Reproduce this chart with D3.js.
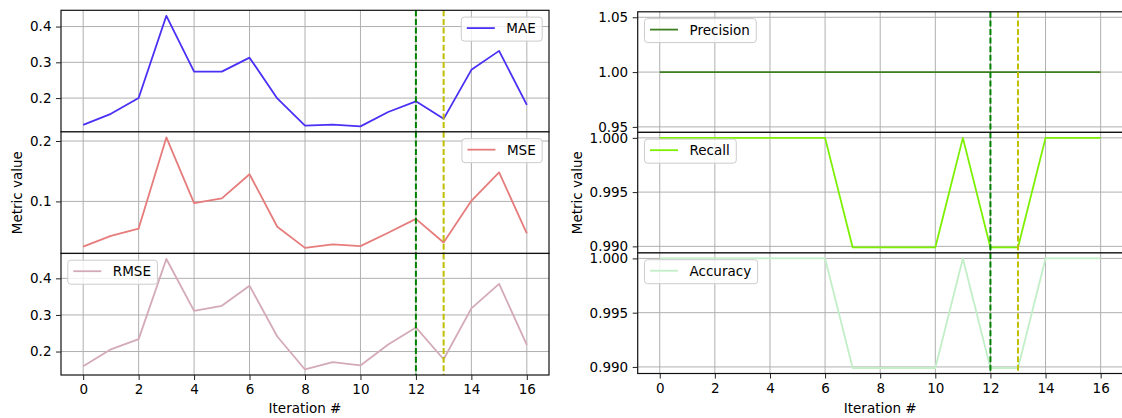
<!DOCTYPE html>
<html>
<head>
<meta charset="utf-8">
<script src="https://cdn.jsdelivr.net/npm/d3@7/dist/d3.min.js"></script>
<style>
  body { margin: 0; background: #fff; }
  svg { display: block; font-family: "DejaVu Sans", sans-serif; }
</style>
</head>
<body>
<svg id="chart" width="1122" height="418"></svg>
<script>
const iterations = [0, 1, 2, 3, 4, 5, 6, 7, 8, 9, 10, 11, 12, 13, 14, 15, 16];
const xTicks = [0, 2, 4, 6, 8, 10, 12, 14, 16];

const maeValues = [0.125, 0.156, 0.200, 0.430, 0.274, 0.274, 0.313, 0.199, 0.123, 0.126, 0.121, 0.161, 0.191, 0.142, 0.279, 0.332, 0.181];
const mseValues = [0.025, 0.043, 0.055, 0.206, 0.097, 0.105, 0.145, 0.058, 0.023, 0.029, 0.026, 0.048, 0.071, 0.032, 0.101, 0.148, 0.047];
const rmseValues = [0.160, 0.206, 0.234, 0.453, 0.311, 0.325, 0.380, 0.241, 0.151, 0.171, 0.162, 0.219, 0.266, 0.179, 0.318, 0.385, 0.218];
const precisionValues = [1, 1, 1, 1, 1, 1, 1, 1, 1, 1, 1, 1, 1, 1, 1, 1, 1];
const recallValues = [1, 1, 1, 1, 1, 1, 1, 0.9899, 0.9899, 0.9899, 0.9899, 1, 0.9899, 0.9899, 1, 1, 1];
const accuracyValues = [1, 1, 1, 1, 1, 1, 1, 0.9899, 0.9899, 0.9899, 0.9899, 1, 0.9899, 0.9899, 1, 1, 1];

const maeTicks = [0.2, 0.3, 0.4];
const mseTicks = [0.1, 0.2];
const rmseTicks = [0.2, 0.3, 0.4];
const precisionTicks = [0.95, 1.00, 1.05];
const recallTicks = [0.990, 0.995, 1.000];
const accuracyTicks = [0.990, 0.995, 1.000];

// vertical markers: best iteration (green) and the one after it (yellow)
const markers = [{ x: 12, color: '#008000' }, { x: 13, color: '#bfbf00' }];

const svg = d3.select('#chart');
const FONT = 13.5;

// matplotlib-ish autoscale: 5% margins, constant data expanded by 5%
const autoDomain = (values) => {
  let [lo, hi] = d3.extent(values);
  if (hi - lo < 1e-12) {
    lo -= Math.abs(lo) * 0.05;
    hi += Math.abs(hi) * 0.05;
  }
  const m = (hi - lo) * 0.05;
  return [lo - m, hi + m];
};

const addLegend = (g, panel, x0, x1, y0, y1) => {
  const pad = 6.8;
  const lg = g.append('g');
  const box = lg.append('rect')
    .attr('rx', 3).attr('ry', 3)
    .attr('fill', '#fff').attr('fill-opacity', 0.8)
    .attr('stroke', '#cccccc').attr('stroke-width', 1);
  lg.append('line')
    .attr('x1', 5.5).attr('x2', 33.5)
    .attr('y1', 11).attr('y2', 11)
    .attr('stroke', panel.color).attr('stroke-width', 1.8);
  const label = lg.append('text')
    .attr('x', 45).attr('y', 16)
    .attr('font-size', FONT)
    .text(panel.name);
  const w = 45 + label.node().getComputedTextLength() + 6.5;
  box.attr('width', w).attr('height', 24);
  const lx = panel.legend === 'right' ? x1 - pad - w : x0 + pad;
  lg.attr('transform', `translate(${lx},${y0 + pad})`);
};

const drawFigure = (cfg) => {
  const { left, right, top, bottom, panels, yLabelX } = cfg;
  const x = d3.scaleLinear().domain([-0.8, 16.8]).range([left, right]);
  const h = (bottom - top) / panels.length;

  panels.forEach((panel, i) => {
    const y0 = top + i * h;
    const y1 = y0 + h;
    const y = d3.scaleLinear().domain(autoDomain(panel.values)).range([y1, y0]);
    const g = svg.append('g');

    g.append('rect')
      .attr('x', left).attr('y', y0)
      .attr('width', right - left).attr('height', h)
      .attr('fill', '#fff');

    // grid
    g.append('g').selectAll('line').data(xTicks).join('line')
      .attr('x1', x).attr('x2', x)
      .attr('y1', y0).attr('y2', y1)
      .attr('stroke', '#b0b0b0').attr('stroke-width', 1);
    g.append('g').selectAll('line').data(panel.ticks).join('line')
      .attr('x1', left).attr('x2', right)
      .attr('y1', y).attr('y2', y)
      .attr('stroke', '#b0b0b0').attr('stroke-width', 1);

    const line = d3.line().x((d, j) => x(iterations[j])).y((d) => y(d));
    g.append('path')
      .datum(panel.values)
      .attr('d', line)
      .attr('fill', 'none')
      .attr('stroke', panel.color)
      .attr('stroke-width', 1.8)
      .attr('stroke-linejoin', 'round');

    g.selectAll('.marker').data(markers).join('line')
      .attr('class', 'marker')
      .attr('x1', (d) => x(d.x)).attr('x2', (d) => x(d.x))
      .attr('y1', y0).attr('y2', y1)
      .attr('stroke', (d) => d.color)
      .attr('stroke-width', 2)
      .attr('stroke-dasharray', '6,2.6');

    g.append('rect')
      .attr('x', left).attr('y', y0)
      .attr('width', right - left).attr('height', h)
      .attr('fill', 'none')
      .attr('stroke', '#111').attr('stroke-width', 1.2);

    const yAxis = g.append('g')
      .attr('transform', `translate(${left},0)`)
      .call(d3.axisLeft(y).tickValues(panel.ticks).tickFormat(d3.format(panel.fmt))
        .tickSize(5).tickPadding(4.5));
    yAxis.select('.domain').remove();

    if (i === panels.length - 1) {
      const xAxis = g.append('g')
        .attr('transform', `translate(0,${y1})`)
        .call(d3.axisBottom(x).tickValues(xTicks).tickFormat(d3.format('d'))
          .tickSize(5).tickPadding(4.5));
      xAxis.select('.domain').remove();
    }
    g.selectAll('.tick text').attr('font-size', FONT).attr('font-family', '"DejaVu Sans", sans-serif').attr('fill', '#000');
    g.selectAll('.tick line').attr('stroke', '#222');

    addLegend(g, panel, left, right, y0, y1);
  });

  svg.append('text')
    .attr('transform', `translate(${yLabelX},${(top + bottom) / 2}) rotate(-90)`)
    .attr('text-anchor', 'middle')
    .attr('dy', '0.35em')
    .attr('font-size', FONT)
    .text('Metric value');

  svg.append('text')
    .attr('x', (left + right) / 2)
    .attr('y', 413)
    .attr('text-anchor', 'middle')
    .attr('font-size', FONT)
    .text('Iteration #');
};

drawFigure({
  left: 61, right: 549, top: 10.3, bottom: 375, yLabelX: 17.5,
  panels: [
    { name: 'MAE', values: maeValues, ticks: maeTicks, fmt: '.1f', color: '#4a30f5', legend: 'right' },
    { name: 'MSE', values: mseValues, ticks: mseTicks, fmt: '.1f', color: '#e67c7c', legend: 'right' },
    { name: 'RMSE', values: rmseValues, ticks: rmseTicks, fmt: '.1f', color: '#d3aab6', legend: 'left' }
  ]
});

drawFigure({
  left: 637.7, right: 1122.7, top: 11.8, bottom: 373.5, yLabelX: 577.5,
  panels: [
    { name: 'Precision', values: precisionValues, ticks: precisionTicks, fmt: '.2f', color: '#3f7f20', legend: 'left' },
    { name: 'Recall', values: recallValues, ticks: recallTicks, fmt: '.3f', color: '#7cf000', legend: 'left' },
    { name: 'Accuracy', values: accuracyValues, ticks: accuracyTicks, fmt: '.3f', color: '#c2efc8', legend: 'left' }
  ]
});
</script>
</body>
</html>
